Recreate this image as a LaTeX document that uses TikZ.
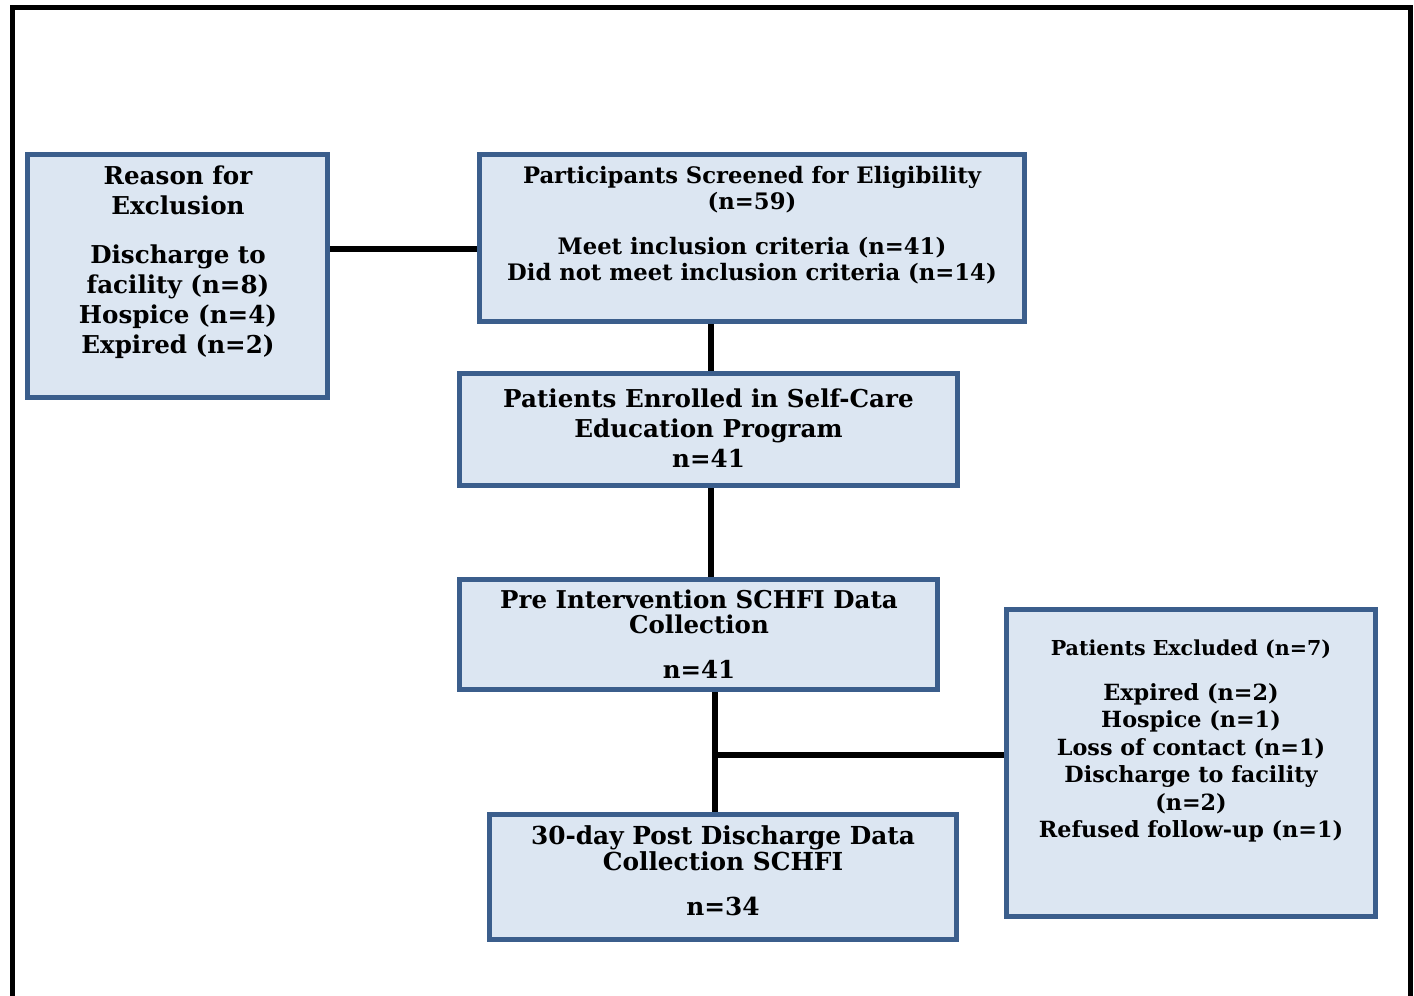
\documentclass[tikz,border=0pt]{standalone}
\usepackage{fontspec}
\setmainfont{DejaVu Serif}
\usetikzlibrary{backgrounds}
\definecolor{boxfill}{HTML}{DCE6F2}
\definecolor{boxline}{HTML}{3B5E8C}
\begin{document}
\begin{tikzpicture}[x=1pt,y=-1pt,
  box/.style={draw=boxline, fill=boxfill, line width=5pt, inner sep=0pt, rectangle},
  txt/.style={align=center, inner sep=0pt, text=black},
  conn/.style={line width=6.5pt, black}]
\useasboundingbox (0,0) rectangle (1414,996);
\draw[line width=5pt] (12,996) -- (12,7.5) -- (1410,7.5) -- (1410,996);

\node[box, minimum width=300pt, minimum height=243pt] (reason) at (177.5,276) {};
\node[box, minimum width=545pt, minimum height=167pt] (screened) at (752,238) {};
\node[box, minimum width=498pt, minimum height=112pt] (enrolled) at (708.5,429.5) {};
\node[box, minimum width=478pt, minimum height=110pt] (pre) at (698.5,634.5) {};
\node[box, minimum width=467pt, minimum height=125pt] (post) at (723,877) {};
\node[box, minimum width=369pt, minimum height=307pt] (excl) at (1191,763) {};

\node[txt, font={\fontsize{24.6}{30}\bfseries\selectfont}] (treason) at (178,262)
  {Reason for\\ Exclusion\\[19pt] Discharge to\\ facility (n=8)\\ Hospice (n=4)\\ Expired (n=2)};
\node[txt, font={\fontsize{22.7}{26}\bfseries\selectfont}] (tscreened) at (752,225)
  {Participants Screened for Eligibility\\ (n=59)\\[19pt] Meet inclusion criteria (n=41)\\ Did not meet inclusion criteria (n=14)};
\node[txt, font={\fontsize{24.6}{30}\bfseries\selectfont}] (tenrolled) at (708.5,428.5)
  {Patients Enrolled in Self-Care\\ Education Program\\ n=41};
\node[txt, font={\fontsize{24.5}{25}\bfseries\selectfont}] (tpre) at (699,634)
  {Pre Intervention SCHFI Data\\ Collection\\[20pt] n=41};
\node[txt, font={\fontsize{24.8}{26}\bfseries\selectfont}] (tpost) at (723,870.5)
  {30-day Post Discharge Data\\ Collection SCHFI\\[19pt] n=34};
\node[txt, font={\fontsize{22.3}{27.5}\bfseries\selectfont}] (texcl) at (1191,741)
  {{\fontsize{20.6}{27.5}\selectfont Patients Excluded (n=7)}\\[17.5pt] Expired (n=2)\\ Hospice (n=1)\\ Loss of contact (n=1)\\ Discharge to facility\\ (n=2)\\ Refused follow-up (n=1)};

\coordinate (j) at (715,755);
\begin{scope}[on background layer]
\draw[conn] (reason.east |- 0,249) -- (screened.west |- 0,249);
\draw[conn] (screened.south -| 711,0) -- (enrolled.north -| 711,0);
\draw[conn] (enrolled.south -| 711,0) -- (pre.north -| 711,0);
\draw[conn] (pre.south -| j) -- (post.north -| j);
\draw[conn] (j) -- (excl.west |- j);
\end{scope}
\end{tikzpicture}
\end{document}
